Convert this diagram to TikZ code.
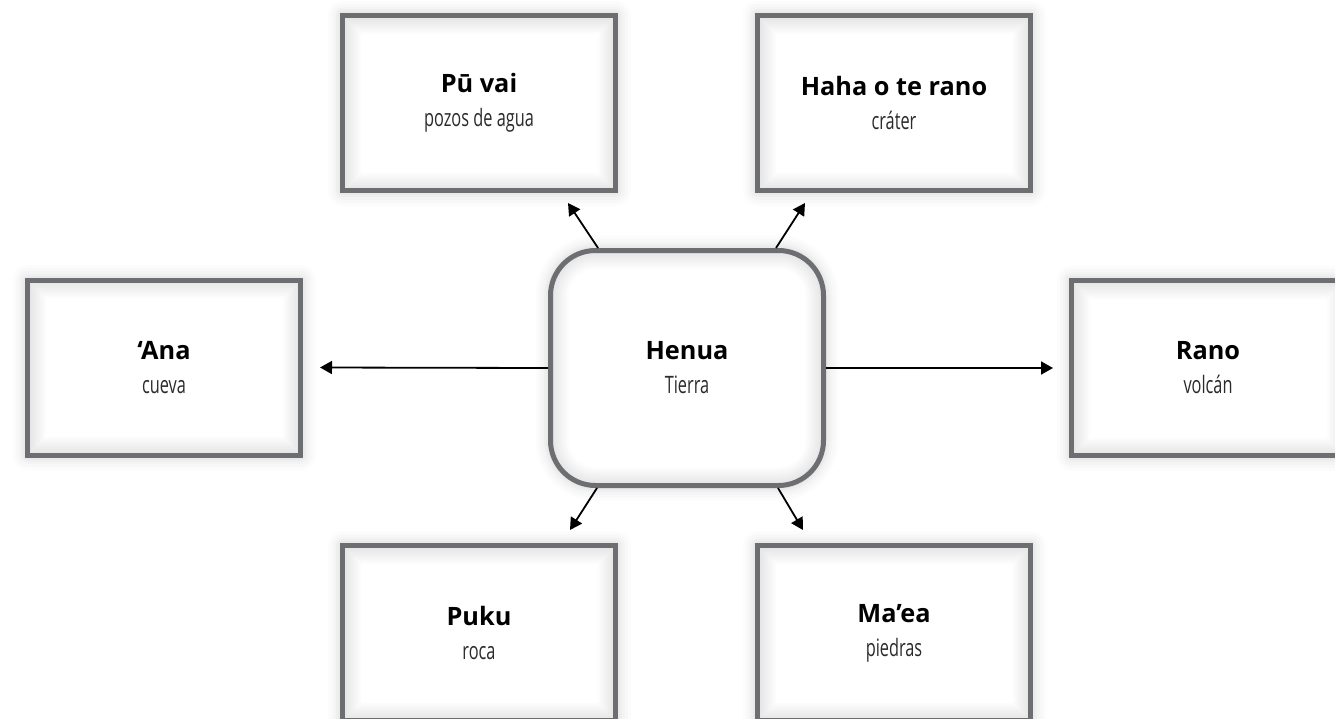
\documentclass[tikz,border=0pt]{standalone}
\usepackage{fontspec}
\setmainfont{Open Sans}
\newfontfamily\subfont{Open Sans}[FakeStretch=0.68]
\newfontfamily\ttlfont{Open Sans}
\usetikzlibrary{arrows.meta,calc}
\definecolor{bordergray}{HTML}{6D6E71}
\definecolor{subgray}{HTML}{2B2B2B}
\newcommand{\ttl}[1]{{\fontsize{25.3}{34}\selectfont\ttlfont\bfseries #1}}
\newcommand{\sbt}[1]{{\fontsize{24}{34}\selectfont\subfont\color{subgray}#1}}
\tikzset{
  glow/.style={
    preaction={draw=black,opacity=0.012,line width=30pt,line join=round},
    preaction={draw=black,opacity=0.014,line width=24pt,line join=round},
    preaction={draw=black,opacity=0.016,line width=18pt,line join=round},
    preaction={draw=black,opacity=0.018,line width=13pt,line join=round},
    preaction={draw=black,opacity=0.02,line width=9pt,line join=round}},
  cardbox/.style={glow, draw=bordergray, line width=5pt, fill=white,
    minimum width=273pt, minimum height=175pt, align=center,
    font=\fontsize{20}{34}\selectfont,
    path picture={
      \foreach \w in {4,8,...,36}
        \draw[black,opacity=0.011,line width=\w pt] (path picture bounding box.south west) rectangle (path picture bounding box.north east);
    }},
  hubbox/.style={glow, draw=bordergray, line width=5pt, fill=white, rounded corners=45pt,
    minimum width=273pt, minimum height=235pt, align=center,
    font=\fontsize{20}{34}\selectfont,
    path picture={
      \foreach \w in {4,8,...,36}
        \draw[black,opacity=0.011,line width=\w pt,rounded corners=45pt] (path picture bounding box.south west) rectangle (path picture bounding box.north east);
    }},
  arr/.style={draw=black, line width=1.8pt, -{Triangle[length=12pt,width=13pt]}}
}
\begin{document}
\begin{tikzpicture}[x=1pt,y=-1pt]
\useasboundingbox (0,0) rectangle (1335,718);
\fill[white] (0,0) rectangle (1335,718);
\clip (0,0) rectangle (1335,718);
\node[hubbox] (henua) at (687,368) {\ttl{Henua}\\\sbt{Tierra}};
\node[cardbox] (puvai) at (479,103) {\ttl{Pū vai}\\\sbt{pozos de agua}};
\node[cardbox] (haha) at (894,103) {\ttl{Haha o te rano}\\\sbt{cráter}};
\node[cardbox] (ana) at (164,367.5) {\ttl{‘Ana}\\\sbt{cueva}};
\node[cardbox] (rano) at (1208,368) {\ttl{Rano}\\\sbt{volcán}};
\node[cardbox] (puku) at (479,633) {\ttl{Puku}\\\sbt{roca}};
\node[cardbox] (maea) at (894,633) {\ttl{Ma’ea}\\\sbt{piedras}};
\draw[arr] ([xshift=-89pt]henua.north) -- ([xshift=89pt,yshift=-10pt]puvai.south);
\draw[arr] ([xshift=89pt]henua.north) -- ([xshift=-89pt,yshift=-10pt]haha.south);
\draw[arr] (henua.west) -- ([xshift=17pt]ana.east);
\draw[arr] (henua.east) -- ([xshift=-16pt]rano.west);
\draw[arr] ([xshift=-90pt]henua.south) -- ([xshift=91pt,yshift=13pt]puku.north);
\draw[arr] ([xshift=91pt]henua.south) -- ([xshift=-91pt,yshift=13pt]maea.north);
\end{tikzpicture}
\end{document}
